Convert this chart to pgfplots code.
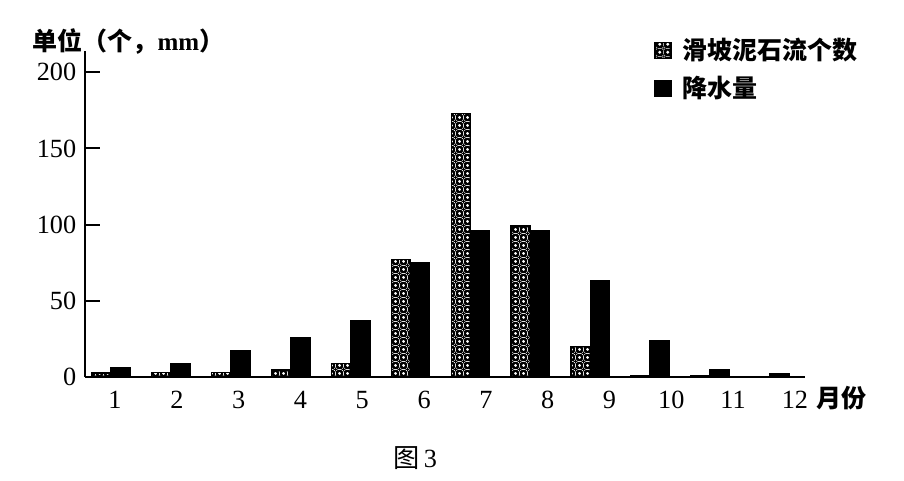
\documentclass[border=0pt]{standalone}
\usepackage{pgfplots}
\pgfplotsset{compat=1.18}
\usepackage{fontspec}
\setmainfont{Liberation Serif}
\newfontfamily\cjk{Noto Sans CJK SC}
\usetikzlibrary{patterns}

% white holes on black, staggered
\pgfdeclarepatternformonly{holes}{\pgfqpoint{0pt}{0pt}}{\pgfqpoint{3.2pt}{3.2pt}}{\pgfqpoint{3.2pt}{3.2pt}}{%
  \pgfseteorule
  \pgfpathrectangle{\pgfqpoint{0pt}{0pt}}{\pgfqpoint{3.2pt}{3.2pt}}%
  \pgfpathcircle{\pgfqpoint{1.6pt}{1.6pt}}{0.8pt}%
  \pgfpathcircle{\pgfqpoint{0pt}{0pt}}{0.8pt}%
  \pgfpathcircle{\pgfqpoint{3.2pt}{0pt}}{0.8pt}%
  \pgfpathcircle{\pgfqpoint{0pt}{3.2pt}}{0.8pt}%
  \pgfpathcircle{\pgfqpoint{3.2pt}{3.2pt}}{0.8pt}%
  \pgfusepath{fill}}

\pgfplotsset{sqlegend/.style={legend image code/.code={%
    \path[draw=none, fill=none, pattern=none] (0pt,0pt) -- (10pt,0pt);
    \draw[##1] (0pt,-3.2pt) rectangle (6.4pt,3.2pt);}}}

\begin{document}
\begin{tikzpicture}[x=0.4pt,y=0.4pt]
\path[use as bounding box] (0,0) rectangle (904,480);

\begin{axis}[
    at={(34pt,41.2pt)}, anchor=south west,
    scale only axis,
    width=288pt, height=130.4pt,
    xmin=0.566, xmax=12.584,
    ymin=0, ymax=214,
    axis lines=left,
    axis line style={-, line width=1pt},
    ybar=0pt, bar width=0.32,
    ytick={0,50,100,150,200},
    tick align=inside,
    major tick length=6pt,
    y tick style={line width=0.8pt, black},
    x tick style={draw=none},
    xtick={1.067,2.099,3.130,4.162,5.194,6.226,7.257,8.289,9.321,10.352,11.384,12.416},
    xticklabels={1,2,3,4,5,6,7,8,9,10,11,12},
    tick label style={font=\fontsize{10.5}{12}\selectfont},
    xticklabel style={yshift=-2pt},
    /pgf/number format/assume math mode=true,
    legend style={at={(rel axis cs:0.79,1.045)}, anchor=north west,
        draw=none, fill=none, inner sep=0pt, row sep=4.2pt,
        font=\cjk\bfseries\fontsize{10}{12}\selectfont,
        nodes={inner sep=1pt, text height=8pt, text depth=1pt}},
    legend cell align=left,
]

\addplot[draw=black, line width=0.6pt, pattern=holes, sqlegend]
coordinates {
    (1,2.5) (2,3) (3,3) (4,4.5) (5,9) (6,77)
    (7,173) (8,99) (9,20) (10,1) (11,1) (12,0)
};
\addlegendentry{滑坡泥石流个数}

\addplot[draw=black, line width=0.6pt, fill=black, sqlegend]
coordinates {
    (1,6) (2,9) (3,17) (4,26) (5,37) (6,75)
    (7,96) (8,96) (9,63) (10,23.5) (11,5) (12,2)
};
\addlegendentry{降水量}

\end{axis}

\node[anchor=west, inner sep=0pt] at (32,438)
    {\fontsize{10}{12}\selectfont{\cjk\bfseries 单位（个，}\textbf{mm}{\cjk\bfseries ）}};
\node[anchor=west, inner sep=0pt] at (816,82)
    {\fontsize{10}{12}\selectfont\cjk\bfseries 月份};
\node[inner sep=0pt] at (415,22)
    {\fontsize{10.5}{12}\selectfont{\cjk 图}\,3};
\end{tikzpicture}
\end{document}
